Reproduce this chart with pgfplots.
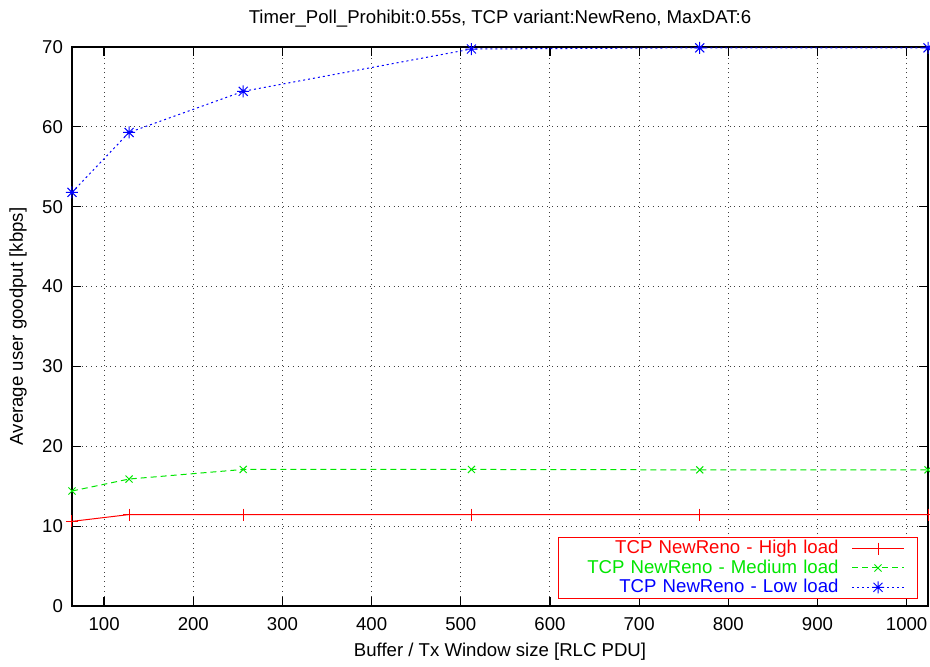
\documentclass[border=0pt]{standalone}
\usepackage{fontspec}
\setmainfont{Liberation Sans}
\usepackage{pgfplots}
\pgfplotsset{compat=1.18}
\pgfdeclareplotmark{gpstar}{%
  \pgfpathmoveto{\pgfqpoint{-\pgfplotmarksize}{0pt}}\pgfpathlineto{\pgfqpoint{\pgfplotmarksize}{0pt}}%
  \pgfpathmoveto{\pgfqpoint{0pt}{-\pgfplotmarksize}}\pgfpathlineto{\pgfqpoint{0pt}{\pgfplotmarksize}}%
  \pgfpathmoveto{\pgfqpoint{-0.75\pgfplotmarksize}{-0.75\pgfplotmarksize}}\pgfpathlineto{\pgfqpoint{0.75\pgfplotmarksize}{0.75\pgfplotmarksize}}%
  \pgfpathmoveto{\pgfqpoint{-0.75\pgfplotmarksize}{0.75\pgfplotmarksize}}\pgfpathlineto{\pgfqpoint{0.75\pgfplotmarksize}{-0.75\pgfplotmarksize}}%
  \pgfusepathqstroke}
\definecolor{gpred}{RGB}{255,0,0}
\definecolor{gpgreen}{RGB}{0,230,0}
\definecolor{gpblue}{RGB}{0,0,255}
\begin{document}
\begin{tikzpicture}
\path[use as bounding box] (-36pt,-30pt) rectangle (429pt,303pt);
\begin{axis}[
  at={(0,0)}, anchor=south west,
  scale only axis, width=428pt, height=279.5pt,
  font=\fontsize{9.3}{11}\selectfont,
  /pgf/number format/assume math mode=true,
  /pgf/number format/set thousands separator={},
  xmin=64, xmax=1024, ymin=0, ymax=70,
  xtick={100,200,...,1000}, ytick={0,10,...,70},
  tick align=inside, major tick length=4.5pt,
  tick style={black, line width=0.6pt},
  axis line style={black, line width=0.8pt},
  grid=major, major grid style={black!75, dotted, line width=0.5pt},
  x tick label style={yshift=-2pt},
  y tick label style={xshift=-1pt},
  every axis title shift=0pt,
  title={Timer\_Poll\_Prohibit:0.55s, TCP variant:NewReno, MaxDAT:6},
  title style={at={(0.5,1.05)}, anchor=center},
  xlabel={Buffer / Tx Window size [RLC PDU]},
  xlabel style={at={(0.5,-0.0823)}, anchor=center},
  ylabel={Average user goodput [kbps]},
  ylabel style={at={(-0.0631,0.5)}, anchor=center},
  legend plot pos=right,
  legend style={at={(1,0)}, anchor=south east, xshift=-5pt, yshift=3.5pt,
    draw=gpred, line width=0.5pt, inner xsep=6.5pt, inner ysep=0.5pt,
    row sep=-0.6pt, fill=white, font=\fontsize{9.3}{11}\selectfont,
    column sep=6.5pt,
    nodes={inner xsep=0pt, inner ysep=1pt, text width=133.5pt, align=right}},
  legend image code/.code={\draw[mark repeat=2, mark phase=2, #1] plot coordinates {(0pt,0pt) (13pt,0pt) (26pt,0pt)};},
  clip=false,
]
\addplot[color=gpred, line width=0.5pt, mark=+, mark size=3pt, mark options={solid}] coordinates {
(64,10.6) (128,11.45) (256,11.45) (512,11.45) (768,11.45) (1024,11.45)};
\addlegendentry[text=gpred]{TCP NewReno - High load}
\addplot[color=gpgreen, line width=0.5pt, dash pattern=on 3pt off 2pt, mark=x, mark size=2.5pt, mark options={solid}] coordinates {
(64,14.4) (128,15.9) (256,17.1) (512,17.1) (768,17.05) (1024,17.05)};
\addlegendentry[text=gpgreen]{TCP NewReno - Medium load}
\addplot[color=gpblue, line width=0.5pt, dash pattern=on 1pt off 1.5pt, mark=gpstar, mark size=3pt, mark options={solid}] coordinates {
(64,51.8) (128,59.3) (256,64.45) (512,69.75) (768,69.9) (1024,69.9)};
\addlegendentry[text=gpblue]{TCP NewReno - Low load}
\end{axis}
\end{tikzpicture}
\end{document}
